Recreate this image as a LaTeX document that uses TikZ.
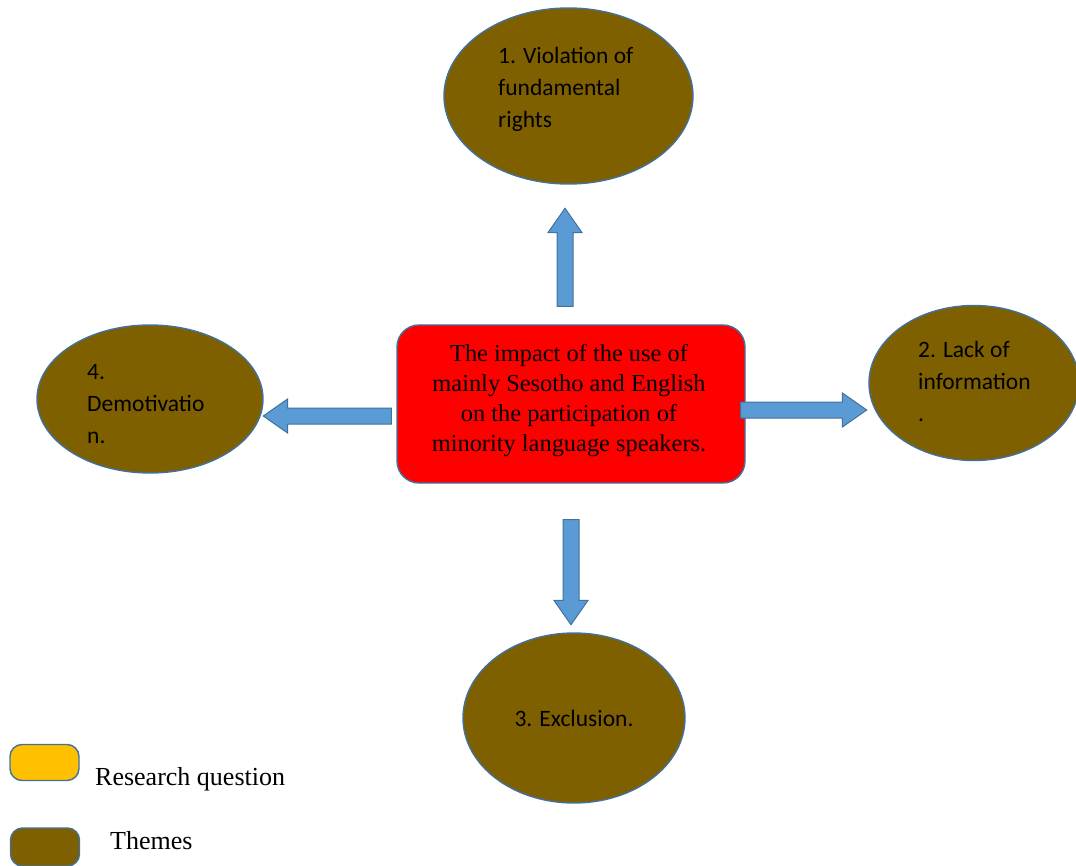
\documentclass[tikz,border=0pt]{standalone}
\usepackage{fontspec}
\setmainfont{Liberation Serif}
\newfontfamily\themefont{Carlito}
\usetikzlibrary{shapes.geometric,shapes.arrows}
\definecolor{themebrown}{HTML}{7F6000}
\definecolor{edgeblue}{HTML}{41719C}
\definecolor{arrowblue}{HTML}{5B9BD5}
\definecolor{questionred}{HTML}{FF0000}
\definecolor{questionyellow}{HTML}{FFC000}
\tikzset{
  theme/.style={ellipse, draw=edgeblue, line width=1.4pt, fill=themebrown, inner sep=0pt},
  themetext/.style={font=\themefont\fontsize{23.5}{32}\selectfont, align=left, inner sep=0pt, text=black},
  question/.style={rectangle, rounded corners=22pt, draw=edgeblue, line width=1.4pt, fill=questionred,
    minimum width=348pt, minimum height=158pt, inner sep=0pt},
  questiontext/.style={font=\fontsize{24.4}{30}\selectfont, align=center, inner sep=0pt},
  blockarrow/.style={single arrow, draw=edgeblue, line width=1pt, fill=arrowblue, inner sep=7.5pt,
    single arrow head extend=9pt, single arrow tip angle=70, minimum width=33pt},
  legendkey/.style={rectangle, rounded corners=12pt, draw=edgeblue, line width=1.4pt,
    minimum width=69pt, minimum height=36pt, inner sep=0pt},
  legendtext/.style={font=\fontsize{26}{30}\selectfont, anchor=west, inner sep=0pt}
}
\begin{document}
\begin{tikzpicture}[x=1pt,y=-1pt]
\useasboundingbox (0,0) rectangle (1076,866);

% research question
\node[question] (q) at (571,404) {};
\node[questiontext] (qt) at (569,401)
  {The impact of the use of\\mainly Sesotho and English\\on the participation of\\minority language speakers.};

% themes
\node[theme, minimum width=249pt, minimum height=176pt] (e1) at (568.5,96) {};
\node[themetext, anchor=west] (t1) at (498,89) {1. Violation of\\fundamental\\rights};

\node[theme, minimum width=210pt, minimum height=155pt] (e2) at (974,383) {};
\node[themetext, anchor=west] (t2) at (918,381) {2. Lack of\\information\\.};

\node[theme, minimum width=222pt, minimum height=170pt] (e3) at (574,718) {};
\node[themetext] (t3) at (574,718) {3. Exclusion.};

\node[theme, minimum width=226pt, minimum height=148pt] (e4) at (150,399) {};
\node[themetext, anchor=west] (t4) at (87,404) {4.\\Demotivatio\\n.};

% block arrows from the question to each theme
\node[blockarrow, minimum height=98pt, rotate=90] (a1) at (565,263) {};
\node[blockarrow, minimum height=126pt] (a2) at (798,410) {};
\node[blockarrow, minimum height=105pt, rotate=-90] (a3) at (571,566.5) {};
\node[blockarrow, minimum height=128pt, rotate=180] (a4) at (333,416) {};

% legend
\node[legendkey, fill=questionyellow] (k1) at (44.5,762.5) {};
\node[legendtext] (l1) at (95,779) {Research question};
\node[legendkey, fill=themebrown, minimum height=38pt] (k2) at (45,847) {};
\node[legendtext] (l2) at (110,841) {Themes};
\end{tikzpicture}
\end{document}
